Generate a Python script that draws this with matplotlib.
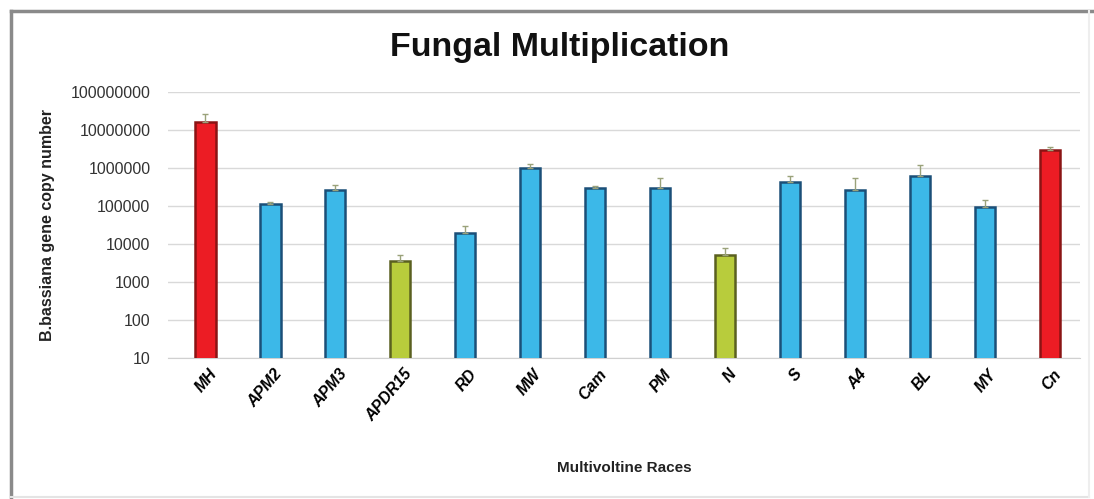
import matplotlib.pyplot as plt
from matplotlib.lines import Line2D
from matplotlib.transforms import ScaledTranslation

plt.rcParams['font.family'] = ['Liberation Sans', 'DejaVu Sans']

races = ['MH', 'APM2', 'APM3', 'APDR15', 'RD', 'MW', 'Cam', 'PM', 'N',
         'S', 'A4', 'BL', 'MY', 'Cn']
copy_number = [16000000, 115000, 260000, 3600, 20000, 980000, 290000, 290000,
               5100, 430000, 260000, 600000, 95000, 3000000]
upper_err = [10000000, 15000, 100000, 1500, 10000, 300000, 50000, 250000,
             3000, 200000, 300000, 600000, 50000, 500000]
group = ['r', 'b', 'b', 'g', 'b', 'b', 'b', 'b', 'g', 'b', 'b', 'b', 'b', 'r']

fill = {'r': '#ec1c24', 'b': '#3cb8e8', 'g': '#b8cc3c'}
edge = {'r': '#8a1414', 'b': '#1b4f78', 'g': '#5a6020'}

fig = plt.figure(figsize=(10.94, 4.99), dpi=100)
ax = fig.add_axes([0.154, 0.282, 0.833, 0.534])

x = list(range(len(races)))
ax.bar(x, copy_number, width=0.31, bottom=0,
       color=[fill[g] for g in group], edgecolor=[edge[g] for g in group],
       linewidth=1.8, zorder=3)
ax.errorbar(x, copy_number, yerr=[[0] * len(x), upper_err], fmt='none',
            ecolor='#9aa27a', elinewidth=1, capsize=2, zorder=4)

ax.set_yscale('log')
ax.set_ylim(10, 100000000)
ax.set_xlim(-0.57, 13.46)
ticks = [10 ** k for k in range(1, 9)]
ax.set_yticks(ticks)
ax.set_yticklabels([str(t) for t in ticks], fontsize=11.5, color='#333333')
ax.minorticks_off()
ax.tick_params(axis='y', length=0, pad=13)
ax.tick_params(axis='x', length=0, pad=6)
ax.set_xticks(x)
ax.set_xticklabels(races, rotation=50, ha='right', rotation_mode='anchor',
                   fontsize=11.5, fontweight='bold', fontstyle='italic')
# nudge the slanted race names a little to the right of their bars
shift = ScaledTranslation(3 / 100, 0, fig.dpi_scale_trans)
for lab in ax.get_xticklabels():
    lab.set_transform(lab.get_transform() + shift)
ax.grid(axis='y', color='#d9d9d9', linewidth=1, zorder=0)
for s in ['top', 'right', 'left']:
    ax.spines[s].set_visible(False)
ax.spines['bottom'].set_color('#d0d0d0')

ax.set_ylabel('B.bassiana gene copy number', fontsize=11.5,
              fontweight='bold', color='#222222')
ax.yaxis.set_label_coords(-0.124, 0.5)
ax.set_xlabel('Multivoltine Races', fontsize=11, fontweight='bold',
              color='#222222', va='center')
ax.xaxis.set_label_coords(0.5, -0.41)
fig.text(0.512, 0.904, 'Fungal Multiplication', ha='center', va='center',
         fontsize=24.5, fontweight='bold', color='#111111')

# chart frame: solid top and left, faint bottom and right
trans = fig.transFigure
fig.add_artist(Line2D([0.010, 1.0], [0.978, 0.978], transform=trans,
                      color='#8a8a8a', linewidth=2.5))
fig.add_artist(Line2D([0.010, 0.010], [0.0, 0.978], transform=trans,
                      color='#8a8a8a', linewidth=2.5))
fig.add_artist(Line2D([0.010, 0.995], [0.004, 0.004], transform=trans,
                      color='#e4e4e4', linewidth=1.5))
fig.add_artist(Line2D([0.995, 0.995], [0.004, 0.978], transform=trans,
                      color='#eeeeee', linewidth=1.5))

fig.savefig('out.png', dpi=100)
